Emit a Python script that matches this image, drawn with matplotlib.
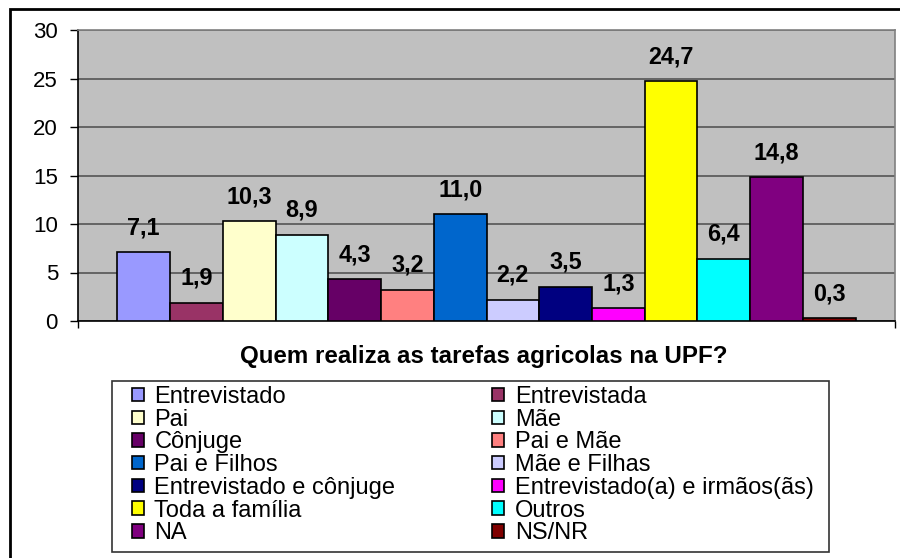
import matplotlib
matplotlib.use("Agg")
import matplotlib.pyplot as plt
from matplotlib.patches import Patch, Rectangle

# data
categories = ["Entrevistado", "Entrevistada", "Pai", "Mãe", "Cônjuge", "Pai e Mãe",
              "Pai e Filhos", "Mãe e Filhas", "Entrevistado e cônjuge",
              "Entrevistado(a) e irmãos(ãs)", "Toda a família", "Outros", "NA", "NS/NR"]
values = [7.1, 1.9, 10.3, 8.9, 4.3, 3.2, 11.0, 2.2, 3.5, 1.3, 24.7, 6.4, 14.8, 0.3]
colors = ["#9999FF", "#993366", "#FFFFCC", "#CCFFFF", "#660066", "#FF8080",
          "#0066CC", "#CCCCFF", "#000080", "#FF00FF", "#FFFF00", "#00FFFF",
          "#800080", "#800000"]
yticks = [0, 5, 10, 15, 20, 25, 30]
title = "Quem realiza as tarefas agricolas na UPF?"

plt.rcParams['font.family'] = ['Liberation Sans', 'DejaVu Sans']

W, H = 900, 558
fig = plt.figure(figsize=(W / 100, H / 100), dpi=100)
ax = fig.add_axes([78 / W, 1 - 321 / H, 817 / W, 291 / H])
ax.set_facecolor("#C0C0C0")

x = list(range(len(values)))
ax.bar(x, values, width=1.0, color=colors, edgecolor="black", linewidth=1.2, zorder=3)

for xi, v in zip(x, values):
    ax.annotate(f"{v:.1f}".replace(".", ","), (xi, v), xytext=(0, 13),
                textcoords="offset points", ha="center", va="baseline",
                fontsize=16.8, fontweight="bold", zorder=4)

ax.set_ylim(0, 30)
ax.set_yticks(yticks)
ax.set_yticklabels([str(t) for t in yticks], fontsize=16)
ax.set_xlim(-0.5 - 0.745, len(values) - 0.5 + 0.745)
ax.set_xticks([-0.5 - 0.745, len(values) - 0.5 + 0.745])
ax.set_xticklabels(["", ""])
ax.tick_params(axis="x", direction="out", length=5, width=1, color="black")
ax.tick_params(axis="y", direction="out", length=5.8, width=1, pad=8.6)
ax.yaxis.grid(True, color="#555555", linewidth=1.2, zorder=0)
ax.set_axisbelow(True)
for side in ["top", "right"]:
    ax.spines[side].set_color("#808080")
    ax.spines[side].set_linewidth(1.2)
for side in ["left", "bottom"]:
    ax.spines[side].set_color("black")
    ax.spines[side].set_linewidth(1.2)

fig.text(484 / W, 1 - 357 / H, title, ha="center", va="center",
         fontsize=17.4, fontweight="bold")

# legend is filled row by row in the reference
order = list(range(0, len(categories), 2)) + list(range(1, len(categories), 2))
handles = [Patch(facecolor=colors[i], edgecolor="black", linewidth=1.2) for i in order]
labels = [categories[i] for i in order]
leg = fig.legend(handles, labels, ncol=2, loc="upper left",
                 bbox_to_anchor=(132 / W, 1 - 386 / H),
                 prop={"size": 17}, frameon=False,
                 handlelength=0.5, handleheight=0.5, handletextpad=0.45,
                 labelspacing=0.03, columnspacing=4.1, borderpad=0,
                 borderaxespad=0)

# legend frame
fig.patches.append(Rectangle((112 / W, 1 - 552 / H), 717 / W, 171 / H,
                             transform=fig.transFigure, fill=False,
                             edgecolor="#333333", linewidth=1.2))

# outer chart frame
fig.patches.append(Rectangle((10 / W, -0.1), 1.2, 1.1 - 9 / H,
                             transform=fig.transFigure, fill=False,
                             edgecolor="black", linewidth=2))

fig.savefig("out.png", dpi=100)
